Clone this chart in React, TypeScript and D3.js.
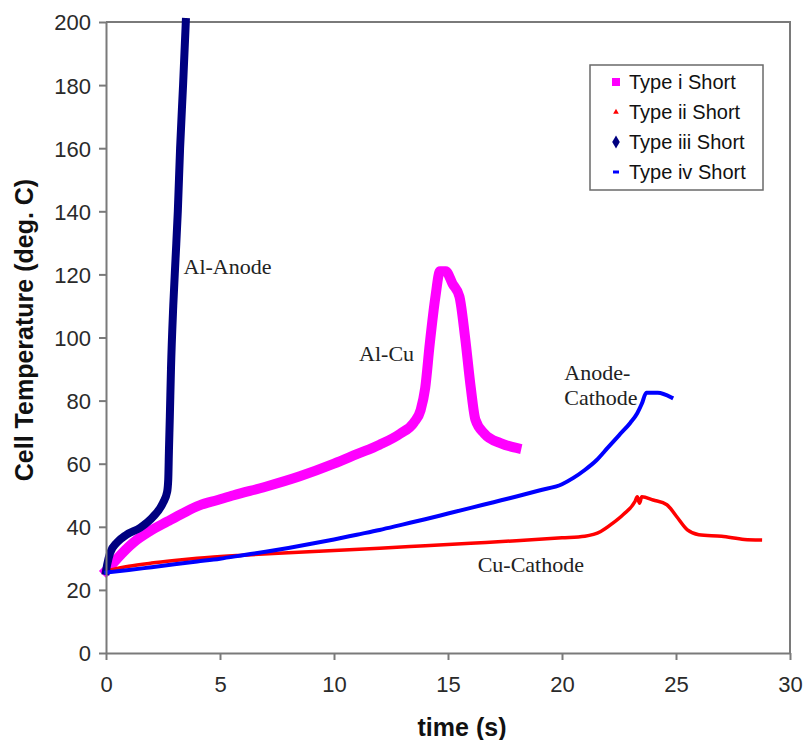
import * as d3 from 'd3';
import React, { useRef, useEffect } from 'react';

// time (s), temperature (deg. C)
const typeI: [number, number][] = [
  [0, 26], [0.2, 27.5], [0.5, 30], [1.2, 35], [1.9, 38.5], [2.7, 41.7], [3.4, 44.4], [4.1, 46.8],
  [4.9, 48.5], [5.6, 50], [7, 52.7], [8.5, 56], [10, 60], [11, 63], [12, 66], [12.9, 69.5],
  [13.5, 73], [13.8, 77], [14.0, 84], [14.2, 98], [14.45, 113], [14.65, 121], [14.9, 121],
  [15.2, 117], [15.5, 113], [15.75, 100], [16.0, 84], [16.2, 74], [16.6, 69.5], [17.3, 66.5], [18, 65],
];
const typeII: [number, number][] = [
  [0, 26], [1, 27.5], [2, 28.5], [3, 29.3], [4, 30], [6, 31], [8, 31.8], [10, 32.5], [12, 33.2],
  [14, 34], [16, 34.8], [18, 35.6], [20, 36.5], [21, 37], [21.7, 38.5], [22.2, 41], [22.7, 44],
  [23.2, 48], [23.3, 49.5], [23.4, 47.5], [23.5, 49.5], [24, 48.5], [24.6, 47], [25.0, 43.5],
  [25.5, 39], [26, 37.5], [27, 37], [28, 36], [28.7, 35.8],
];
const typeIII: [number, number][] = [
  [0, 26], [0.05, 28], [0.18, 31.7], [0.48, 35], [0.9, 37.5], [1.5, 39.7], [2.07, 43.2],
  [2.5, 47.6], [2.68, 51], [2.73, 55], [2.76, 64], [2.8, 75], [2.85, 90], [2.95, 110], [3.05, 125],
  [3.15, 140], [3.25, 160], [3.38, 180], [3.5, 200],
];
const typeIV: [number, number][] = [
  [0, 25.5], [1, 26.3], [2, 27.2], [3, 28.1], [4, 29], [5, 29.9], [6, 31], [7, 32.1], [8, 33.3],
  [9, 34.6], [10, 36], [11, 37.5], [12, 39], [13, 40.7], [14, 42.4], [15, 44.2], [16, 46],
  [17, 47.8], [18, 49.6], [19, 51.5], [20, 53.5], [20.5, 55.5], [21, 58], [21.5, 61], [22, 65],
  [22.5, 69], [23, 73], [23.3, 76], [23.5, 79], [23.7, 82.5], [24.2, 82.5], [24.8, 81],
];

const seriesNames = ['Type i Short', 'Type ii Short', 'Type iii Short', 'Type iv Short'];
const seriesColors = ['#ff00ff', '#ff0000', '#000080', '#0000ff'];
const seriesWidths = [10, 3.5, 8, 4];
const xTicks = [0, 5, 10, 15, 20, 25, 30];
const yTicks = [0, 20, 40, 60, 80, 100, 120, 140, 160, 180, 200];

const notes = [
  { lines: ['Al-Anode'], t: 3.4, v: 120 },
  { lines: ['Al-Cu'], t: 11.1, v: 92.5 },
  { lines: ['Anode-', 'Cathode'], t: 20.1, v: 86.5 },
  { lines: ['Cu-Cathode'], t: 16.3, v: 25.7 },
];

function App() {
  const ref = useRef(null);

  useEffect(() => {
    let svg = d3.select(ref.current);
    svg.selectAll('*').remove();
    draw();
  }, []);

  const draw = () => {
    let margin = { top: 22, right: 16, bottom: 87, left: 106 };
    let svgWidth = 806, svgHeight = 740;
    let width = svgWidth - margin.left - margin.right, height = svgHeight - margin.top - margin.bottom;

    let x = d3.scaleLinear().domain([0, 30]).range([0, width]);
    let y = d3.scaleLinear().domain([0, 200]).range([height, 0]);

    let root = d3.select(ref.current)
      .attr('width', svgWidth)
      .attr('height', svgHeight);
    root.append('rect').attr('width', svgWidth).attr('height', svgHeight).attr('fill', 'white');

    let svg = root.append('g')
      .attr('transform', 'translate(' + margin.left + ',' + margin.top + ')');

    // frame (top and right)
    svg.append('path')
      .attr('d', `M0,0H${width}V${height}`)
      .attr('fill', 'none')
      .attr('stroke', '#7a7a7a')
      .attr('stroke-width', 2);

    let line = d3.line<[number, number]>()
      .x(d => x(d[0]))
      .y(d => y(d[1]))
      .curve(d3.curveMonotoneX);
    const all = [typeI, typeII, typeIII, typeIV];
    all.forEach((s, i) => {
      svg.append('path')
        .datum(s)
        .attr('d', line)
        .attr('fill', 'none')
        .attr('stroke', seriesColors[i])
        .attr('stroke-width', seriesWidths[i])
        .attr('stroke-linejoin', 'round')
        .attr('stroke-linecap', 'square');
    });

    let yAxis = svg.append('g')
      .call(d3.axisLeft(y).tickValues(yTicks).tickSize(7).tickSizeOuter(0).tickPadding(8));
    let xAxis = svg.append('g')
      .attr('transform', 'translate(0,' + height + ')')
      .call(d3.axisBottom(x).tickValues(xTicks).tickSize(7).tickSizeOuter(0).tickPadding(16));
    [yAxis, xAxis].forEach(a => {
      a.select('.domain').attr('stroke', '#7a7a7a').attr('stroke-width', 2);
      a.selectAll('.tick line').attr('stroke', '#7a7a7a').attr('stroke-width', 2);
      a.selectAll('text')
        .attr('font-family', 'Arial, "Liberation Sans", sans-serif')
        .attr('font-size', 22)
        .attr('fill', '#2a2a2a');
    });
    yAxis.selectAll('text').attr('dy', '0.36em');

    // annotations
    notes.forEach(n => {
      n.lines.forEach((l, k) => {
        svg.append('text')
          .attr('x', x(n.t))
          .attr('y', y(n.v) + k * 25)
          .attr('font-family', '"Times New Roman", "Liberation Serif", serif')
          .attr('font-size', 22)
          .attr('fill', '#222')
          .text(l);
      });
    });

    // legend
    let legend = root.append('g').attr('transform', 'translate(590,65)');
    legend.append('rect')
      .attr('width', 173).attr('height', 125)
      .attr('fill', 'white').attr('stroke', '#6a6a6a').attr('stroke-width', 1.5);
    seriesNames.forEach((name, i) => {
      let row = legend.append('g').attr('transform', 'translate(26,' + (17 + i * 30) + ')');
      if (i === 0) row.append('rect').attr('x', -4).attr('y', -4).attr('width', 8).attr('height', 8).attr('fill', seriesColors[i]);
      if (i === 1) row.append('path').attr('d', d3.symbol(d3.symbolTriangle, 14)()).attr('fill', seriesColors[i]);
      if (i === 2) row.append('path').attr('d', d3.symbol(d3.symbolDiamond, 50)()).attr('fill', seriesColors[i]);
      if (i === 3) row.append('rect').attr('x', -3).attr('y', -1.5).attr('width', 6).attr('height', 3).attr('fill', seriesColors[i]);
      row.append('text')
        .attr('x', 13).attr('dy', '0.36em')
        .attr('font-family', 'Arial, "Liberation Sans", sans-serif')
        .attr('font-size', 20)
        .attr('fill', '#111')
        .text(name);
    });

    // axis titles
    root.append('text')
      .attr('transform', 'translate(33,330) rotate(-90)')
      .attr('text-anchor', 'middle')
      .attr('font-family', 'Arial, "Liberation Sans", sans-serif')
      .attr('font-weight', 'bold')
      .attr('font-size', 25)
      .attr('fill', '#111')
      .text('Cell Temperature (deg. C)');
    root.append('text')
      .attr('x', 462).attr('y', 736)
      .attr('text-anchor', 'middle')
      .attr('font-family', 'Arial, "Liberation Sans", sans-serif')
      .attr('font-weight', 'bold')
      .attr('font-size', 25)
      .attr('fill', '#111')
      .text('time (s)');
  };

  return (
    <svg ref={ref} style={{ position: 'absolute', left: 0, top: 0, display: 'block' }}></svg>
  );
}

export default App;
